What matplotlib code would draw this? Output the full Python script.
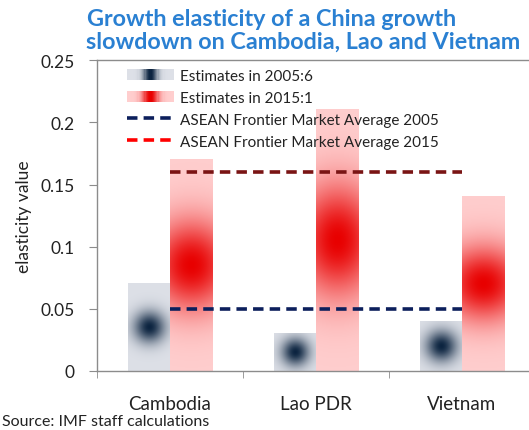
import numpy as np
import matplotlib
matplotlib.use("Agg")
from matplotlib import pyplot as plt
from matplotlib.legend_handler import HandlerBase
from matplotlib.patches import Rectangle, Patch
from matplotlib.lines import Line2D

plt.rcParams['font.family'] = ['Lato', 'DejaVu Sans']

countries = ["Cambodia", "Lao PDR", "Vietnam"]
est_2005 = [0.07, 0.03, 0.04]
est_2015 = [0.17, 0.21, 0.14]
asean_2005 = 0.05
asean_2015 = 0.16
y_ticks = [0, 0.05, 0.1, 0.15, 0.2, 0.25]
y_labels = ["0", "0.05", "0.1", "0.15", "0.2", "0.25"]

GRAY_IN = np.array([12, 36, 64]) / 255
GRAY_OUT = np.array([221, 224, 231]) / 255
RED_IN = np.array([232, 0, 0]) / 255
RED_OUT = np.array([255, 206, 206]) / 255


def gray_weight(dx, dy, w, h):
    # round dark spot, scaled by the short side of the bar
    r = np.sqrt(dx**2 + dy**2) / (min(w, h) / 2)
    return np.exp(-(r / 0.72)**2)


def red_weight(dx, dy, w, h):
    # tall ellipse, bright band through the middle
    u = dx / (w / 2)
    v = dy / (h / 2)
    r = np.sqrt((0.22 * u)**2 + v**2)
    return np.exp(-(r / 0.42)**2)


def gradient_img(w, h, weight, c_in, c_out):
    # w, h in pixels so the shape scales like the bar does
    nx = max(int(w), 4)
    ny = max(int(h), 4)
    xs = (np.arange(nx) + 0.5) / nx * w - w / 2
    ys = (np.arange(ny) + 0.5) / ny * h - h / 2
    dx, dy = np.meshgrid(xs, ys)
    f = weight(dx, dy, w, h)[..., None]
    return c_out + (c_in - c_out) * f


class GradientHandler(HandlerBase):
    def __init__(self, c_in, c_out, sharp):
        super().__init__()
        self.c_in, self.c_out, self.sharp = c_in, c_out, sharp

    def create_artists(self, legend, orig_handle, xdescent, ydescent, width, height, fontsize, trans):
        n = 40
        arts = []
        for i in range(n):
            t = abs((i + 0.5) / n * 2 - 1)
            f = np.exp(-(t / self.sharp)**2)
            col = self.c_out + (self.c_in - self.c_out) * f
            arts.append(Rectangle((-xdescent + i * width / n, -ydescent), width / n * 1.1, height,
                                  facecolor=col, edgecolor='none', transform=trans))
        return arts


fig = plt.figure(figsize=(5.29, 4.31), dpi=100)
ax = fig.add_axes([0.1834, 0.137, 0.8166, 0.721])

x = np.arange(len(countries))
bw = 0.29
bars_a = ax.bar(x - bw / 2, est_2005, bw, color='none', edgecolor='none')
bars_b = ax.bar(x + bw / 2, est_2015, bw, color='none', edgecolor='none')

ax.set_xlim(-0.5, 2.46)
ax.set_ylim(0, 0.25)
fig.canvas.draw()

def px_size(p):
    (x0, y0), (x1, y1) = ax.transData.transform([(p.get_x(), 0), (p.get_x() + p.get_width(), p.get_height())])
    return abs(x1 - x0), abs(y1 - y0)

for bars, weight, c_in, c_out in [(bars_a, gray_weight, GRAY_IN, GRAY_OUT),
                                  (bars_b, red_weight, RED_IN, RED_OUT)]:
    for p in bars:
        w, h = px_size(p)
        img = gradient_img(w, h, weight, c_in, c_out)
        ax.imshow(img, extent=[p.get_x(), p.get_x() + p.get_width(), 0, p.get_height()],
                  origin='lower', aspect='auto', interpolation='bilinear', zorder=2)

dash = (0, (2.9, 1.7))
ax.hlines(asean_2015, x[0], x[-1], colors='#7a1414', linestyles=dash, linewidth=2.6, zorder=3)
ax.hlines(asean_2005, x[0], x[-1], colors='#0c1f5c', linestyles=dash, linewidth=2.6, zorder=3)

ax.set_xlim(-0.5, 2.46)
ax.set_ylim(0, 0.25)

ax.spines['right'].set_visible(False)
for s in ['left', 'bottom', 'top']:
    ax.spines[s].set_color('#8c8c8c')
    ax.spines[s].set_linewidth(1.0)

ax.set_yticks(y_ticks)
ax.set_yticklabels(y_labels)
ax.tick_params(axis='y', length=6, color='#8c8c8c', pad=10, labelsize=12.5, labelcolor='#222222')
ax.set_xticks(x)
ax.set_xticklabels(countries)
ax.tick_params(axis='x', length=0, pad=17, labelsize=13.5, labelcolor='#222222')
ax.set_xticks([-0.5, 0.5, 1.5], minor=True)
ax.tick_params(axis='x', which='minor', length=5, color='#8c8c8c')

ax.set_ylabel("elasticity value", fontsize=12.5, color='#222222', labelpad=6)

h_a = Patch()
h_b = Patch()
h_c = Line2D([], [], color='#0c1f5c', linestyle=dash, linewidth=2.6)
h_d = Line2D([], [], color='#ff0000', linestyle=dash, linewidth=2.6)
leg = ax.legend([h_a, h_b, h_c, h_d],
                ["Estimates in 2005:6", "Estimates in 2015:1",
                 "ASEAN Frontier Market Average 2005", "ASEAN Frontier Market Average 2015"],
                handler_map={h_a: GradientHandler(GRAY_IN, GRAY_OUT, 0.3),
                             h_b: GradientHandler(RED_IN, RED_OUT, 0.35)},
                loc='upper left', bbox_to_anchor=(116 / 529, 1 - 59 / 431),
                bbox_transform=fig.transFigure, frameon=False, fontsize=11,
                handlelength=3.1, handletextpad=0.4, labelspacing=0.52, borderpad=0.2)
for t in leg.get_texts():
    t.set_color('#222222')

title_kw = dict(ha='center', va='center', fontsize=16.8, fontweight='bold', color='#2a80d2')
fig.text(272 / 529, 1 - 20 / 431, "Growth elasticity of a China growth", **title_kw)
fig.text(303 / 529, 1 - 42 / 431, "slowdown on Cambodia, Lao and Vietnam", **title_kw)
fig.text(0.004, 1 - 422 / 431, "Source: IMF staff calculations", ha='left', va='center',
         fontsize=11.5, color='#222222')

fig.savefig("out.png", dpi=100)
